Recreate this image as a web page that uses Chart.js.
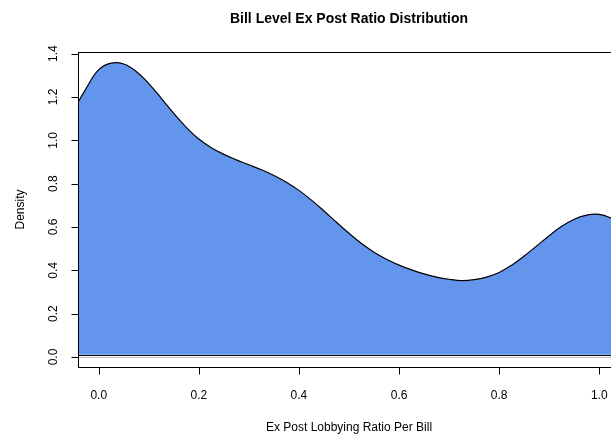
<!DOCTYPE html>
<html>
<head>
<meta charset="utf-8">
<title>Bill Level Ex Post Ratio Distribution</title>
<script src="https://cdn.jsdelivr.net/npm/chart.js@4/dist/chart.umd.min.js"></script>
<style>
  html, body { margin: 0; padding: 0; background: #ffffff; overflow: hidden; }
  #wrap { position: relative; width: 660px; height: 437px; }
</style>
</head>
<body>
<div id="wrap"><canvas id="c" width="660" height="437"></canvas></div>
<script>
// Kernel density estimate of the ex post lobbying ratio (per bill), on a 0.025 grid
const densityX = [-0.050, -0.025, 0.000, 0.025, 0.050, 0.075, 0.100, 0.125, 0.150, 0.175,
                   0.200, 0.225, 0.250, 0.275, 0.300, 0.325, 0.350, 0.375, 0.400, 0.425,
                   0.450, 0.475, 0.500, 0.525, 0.550, 0.575, 0.600, 0.625, 0.650, 0.675,
                   0.700, 0.725, 0.750, 0.775, 0.800, 0.825, 0.850, 0.875, 0.900, 0.925,
                   0.950, 0.975, 1.000, 1.025, 1.050];
const densityY = [1.140, 1.240, 1.326, 1.356, 1.352, 1.318, 1.262, 1.194, 1.124, 1.060,
                  1.006, 0.966, 0.935, 0.910, 0.887, 0.864, 0.838, 0.807, 0.769, 0.724,
                  0.674, 0.622, 0.571, 0.524, 0.484, 0.451, 0.424, 0.402, 0.384, 0.369,
                  0.359, 0.353, 0.357, 0.369, 0.390, 0.424, 0.466, 0.513, 0.560, 0.603,
                  0.636, 0.655, 0.658, 0.640, 0.612];

// Axis ticks
const xTicks = [0.0, 0.2, 0.4, 0.6, 0.8, 1.0];
const yTicks = [0.0, 0.2, 0.4, 0.6, 0.8, 1.0, 1.2, 1.4];

// Level where the closed density polygon meets the baseline
const polygonBase = [0.0106];

const titleText = 'Bill Level Ex Post Ratio Distribution';
const xLabel = 'Ex Post Lobbying Ratio Per Bill';
const yLabel = 'Density';

const points = densityX.map((x, i) => ({ x: x, y: densityY[i] }));

const FONT = '"Liberation Sans", Arial, Helvetica, sans-serif';

// Base-graphics style frame, axes and labels drawn from the chart's own scales
const rFrame = {
  id: 'rFrame',
  afterDraw(chart) {
    const ctx = chart.ctx;
    const a = chart.chartArea;
    const xs = chart.scales.x;
    const ys = chart.scales.y;
    ctx.save();

    // polygon bottom edge
    const yb = Math.round(ys.getPixelForValue(polygonBase[0])) + 0.5;
    ctx.strokeStyle = '#000000';
    ctx.lineWidth = 1;
    ctx.beginPath();
    ctx.moveTo(a.left, yb);
    ctx.lineTo(a.right, yb);
    ctx.stroke();

    // zero line
    const y0 = Math.round(ys.getPixelForValue(0)) + 0.5;
    ctx.strokeStyle = '#bebebe';
    ctx.beginPath();
    ctx.moveTo(a.left, y0);
    ctx.lineTo(a.right, y0);
    ctx.stroke();

    // box
    ctx.strokeStyle = '#000000';
    ctx.lineWidth = 1;
    ctx.strokeRect(Math.round(a.left) + 0.5, Math.round(a.top) + 0.5,
                   Math.round(a.right - a.left), Math.round(a.bottom - a.top));

    // x axis ticks and labels
    ctx.fillStyle = '#000000';
    ctx.font = '12px ' + FONT;
    ctx.textAlign = 'center';
    ctx.textBaseline = 'alphabetic';
    const bx = Math.round(a.bottom) + 0.5;
    ctx.beginPath();
    ctx.moveTo(Math.round(xs.getPixelForValue(xTicks[0])) + 0.5, bx);
    ctx.lineTo(Math.round(xs.getPixelForValue(xTicks[xTicks.length - 1])) + 0.5, bx);
    xTicks.forEach(v => {
      const px = Math.round(xs.getPixelForValue(v)) + 0.5;
      ctx.moveTo(px, bx);
      ctx.lineTo(px, bx + 7);
    });
    ctx.stroke();
    xTicks.forEach(v => {
      ctx.fillText(v.toFixed(1), xs.getPixelForValue(v), a.bottom + 31.5);
    });

    // y axis ticks and rotated labels
    const lx = Math.round(a.left) + 0.5;
    ctx.beginPath();
    ctx.moveTo(lx, Math.round(ys.getPixelForValue(yTicks[0])) + 0.5);
    ctx.lineTo(lx, Math.round(ys.getPixelForValue(yTicks[yTicks.length - 1])) + 0.5);
    yTicks.forEach(v => {
      const py = Math.round(ys.getPixelForValue(v)) + 0.5;
      ctx.moveTo(lx, py);
      ctx.lineTo(lx - 7, py);
    });
    ctx.stroke();
    yTicks.forEach(v => {
      ctx.save();
      ctx.translate(a.left - 21, ys.getPixelForValue(v));
      ctx.rotate(-Math.PI / 2);
      ctx.textAlign = 'center';
      ctx.textBaseline = 'alphabetic';
      ctx.fillText(v.toFixed(1), 0, 0);
      ctx.restore();
    });

    // axis titles
    const cx = (a.left + a.right) / 2;
    const cy = (a.top + a.bottom) / 2;
    ctx.textAlign = 'center';
    ctx.fillText(xLabel, cx, a.bottom + 64);
    ctx.save();
    ctx.translate(24, cy);
    ctx.rotate(-Math.PI / 2);
    ctx.fillText(yLabel, 0, 0);
    ctx.restore();

    // main title
    ctx.font = 'bold 14px ' + FONT;
    ctx.fillText(titleText, cx, 22.5);

    ctx.restore();
  }
};

new Chart(document.getElementById('c'), {
  type: 'line',
  data: {
    datasets: [{
      data: points,
      borderColor: '#000000',
      borderWidth: 1.2,
      backgroundColor: '#6495ed',
      fill: { value: polygonBase[0] },
      pointRadius: 0,
      tension: 0.4
    }]
  },
  options: {
    responsive: false,
    animation: false,
    devicePixelRatio: 1,
    layout: { padding: { left: 78, top: 52, right: 40, bottom: 70 } },
    plugins: {
      legend: { display: false },
      title: { display: false },
      tooltip: { enabled: false }
    },
    scales: {
      x: { type: 'linear', min: -0.0414, max: 1.0414, display: false },
      y: { type: 'linear', min: -0.046, max: 1.4076, display: false }
    }
  },
  plugins: [rFrame]
});
</script>
</body>
</html>
